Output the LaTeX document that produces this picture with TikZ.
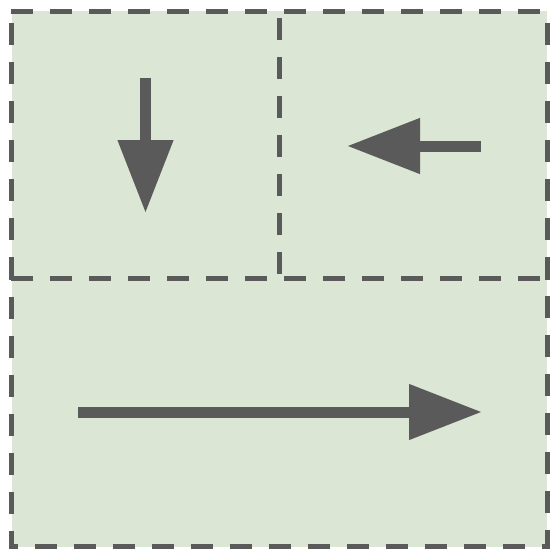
\documentclass[tikz,border=0pt]{standalone}
\usetikzlibrary{arrows.meta}
\definecolor{panelfill}{HTML}{DCE6D5}
\definecolor{ink}{HTML}{5A5A5A}
\begin{document}
\begin{tikzpicture}[x=1pt,y=-1pt,
  panelbg/.style={fill=panelfill},
  rim/.style={draw=ink, line width=5pt, dash pattern=on 22pt off 17pt},
  flow/.style={draw=ink, line width=11pt, -{Triangle[length=73pt,width=53pt]}}]
  \useasboundingbox (0,0) rectangle (560,560);
  % grid of panel corners
  \coordinate (nw) at (11,11);      \coordinate (nm) at (279.5,11);    \coordinate (ne) at (547.5,11);
  \coordinate (wm) at (11,278.5);   \coordinate (cm) at (279.5,278.5); \coordinate (em) at (547.5,278.5);
  \coordinate (sw) at (11,546);     \coordinate (se) at (547.5,546);
  % panel fill
  \path[panelbg] (11.5,11) rectangle (547,547);
  % dashed rims: lower panel as one run, the rest edge by edge
  \path[rim, dash phase=21pt] (wm) -- (sw) -- (se) -- (em);
  \path[rim] (nw) -- (ne);
  \path[rim] (wm) -- (em);
  \path[rim] (wm) -- (nw);
  \path[rim] (em) -- (ne);
  \path[rim, dash phase=32pt] (nm) -- (cm);
  % flow arrows
  \coordinate (downS) at (145.5,78);
  \coordinate (downE) at (145.5,213);
  \coordinate (leftS) at (481,146);
  \coordinate (leftE) at (347,146);
  \coordinate (rightS) at (78,412);
  \coordinate (rightE) at (482,412);
  \draw[flow] (downS) -- (downE);
  \draw[flow] (leftS) -- (leftE);
  \draw[flow] (rightS) -- (rightE);
\end{tikzpicture}
\end{document}
